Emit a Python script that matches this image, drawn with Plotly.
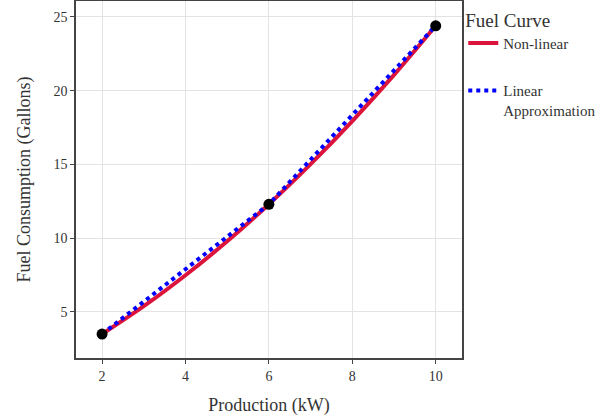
import plotly.graph_objects as go

# Data
curve_x = [2, 3, 4, 5, 6, 7, 8, 9, 10]
curve_y = [3.5, 5.39, 7.49, 9.79, 12.3, 15.02, 17.94, 21.07, 24.4]
knot_x = [2, 6, 10]
knot_y = [3.5, 12.3, 24.4]

font_family = "Liberation Serif"

fig = go.Figure()
fig.add_trace(go.Scatter(
    x=curve_x, y=curve_y, mode="lines", name="Non-linear", legendgroup="a",
    line=dict(color="#DC143C", width=4, shape="spline"),
))
fig.add_trace(go.Scatter(
    x=knot_x, y=knot_y, mode="lines", name="Linear<br>Approximation", legendgroup="b",
    line=dict(color="#0000FF", width=4, dash="dot"),
))
fig.add_trace(go.Scatter(
    x=knot_x, y=knot_y, mode="markers", showlegend=False, legendgroup="c",
    marker=dict(color="black", size=11),
))

axis_common = dict(
    showline=True, linecolor="#444", linewidth=1.5, mirror=True,
    showgrid=True, gridcolor="#e3e3e3", gridwidth=1,
    ticks="outside", ticklen=4, tickcolor="#444",
    zeroline=False,
    tickfont=dict(family=font_family, size=14, color="#333"),
)

fig.update_layout(
    width=597, height=419,
    margin=dict(l=76, r=135, t=1, b=61, autoexpand=False),
    plot_bgcolor="white", paper_bgcolor="white",
    font=dict(family=font_family, color="#333"),
    xaxis=dict(range=[1.375, 10.63], tickvals=[2, 4, 6, 8, 10],
               title=dict(text="Production (kW)", font=dict(size=18, family=font_family), standoff=16),
               **axis_common),
    yaxis=dict(range=[1.88, 26.08], tickvals=[5, 10, 15, 20, 25],
               title=dict(text="Fuel Consumption (Gallons)", font=dict(size=18, family=font_family), standoff=18),
               **axis_common),
    legend=dict(
        title=dict(text="Fuel Curve", font=dict(size=19, family=font_family)),
        font=dict(size=15, family=font_family),
        xref="container", yref="container",
        x=0.776, xanchor="left", y=0.995, yanchor="top",
        traceorder="grouped", tracegroupgap=25, valign="top",
        itemwidth=30, bgcolor="rgba(0,0,0,0)",
    ),
)

fig.write_html("out.html", config={"displayModeBar": False},
               post_script="document.body.style.margin='0';window.dispatchEvent(new Event('resize'));")
